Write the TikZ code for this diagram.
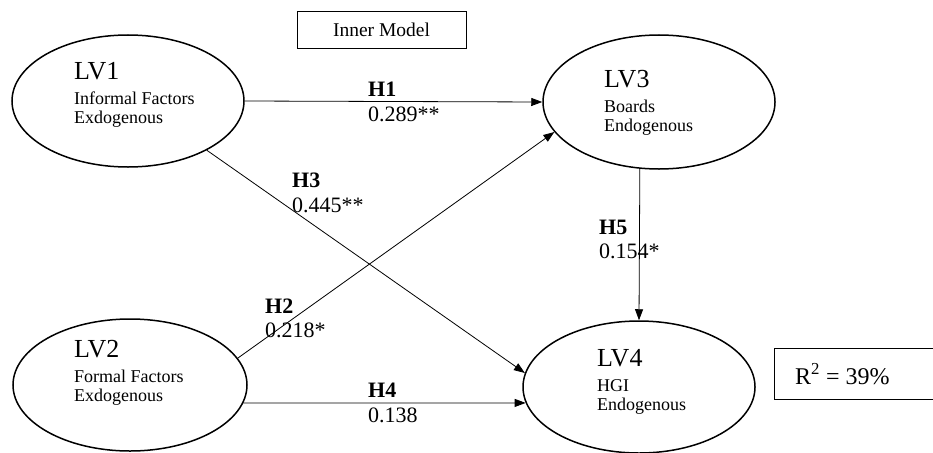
\documentclass[tikz,border=0pt]{standalone}
\usepackage{fontspec}
\setmainfont{Liberation Serif}
\usetikzlibrary{shapes.geometric,arrows.meta}

\tikzset{
  lv/.style={draw, ellipse, line width=1.5pt, minimum width=232pt, minimum height=132pt, inner sep=0pt},
  lvname/.style={anchor=base west, inner sep=0pt, font=\fontsize{26}{26}\selectfont},
  lvtext/.style={anchor=base west, inner sep=0pt, font=\fontsize{18}{18}\selectfont},
  hyp/.style={anchor=base west, inner sep=0pt, font=\fontsize{22}{22}\selectfont\bfseries},
  coef/.style={anchor=base west, inner sep=0pt, font=\fontsize{22}{22}\selectfont},
  path/.style={line width=0.8pt, -{Triangle[length=11pt,width=8pt]}},
  framebox/.style={draw, line width=0.8pt, inner sep=0pt}
}

\begin{document}
\begin{tikzpicture}[x=1pt,y=-1pt]
\useasboundingbox (0,0) rectangle (933,452);

% title box
\node[framebox, minimum width=169pt, minimum height=37pt, font=\fontsize{19.5}{19.5}\selectfont] (title) at (381.5,29.5) {Inner Model};

% latent variables
\node[lv] (lv1) at (128,101) {};
\node[lv, minimum width=232pt, minimum height=134pt] (lv3) at (659,102) {};
\node[lv, minimum width=234pt, minimum height=132pt] (lv2) at (130,385) {};
\node[lv] (lv4) at (639,387) {};

\node[lvname] (n1) at (74,79) {LV1};
\node[lvtext] (t1a) at (74,104) {Informal Factors};
\node[lvtext] (t1b) at (74,123) {Exdogenous};

\node[lvname] (n3) at (604,87) {LV3};
\node[lvtext] (t3a) at (604,112) {Boards};
\node[lvtext] (t3b) at (604,131) {Endogenous};

\node[lvname] (n2) at (74,357) {LV2};
\node[lvtext] (t2a) at (74,382) {Formal Factors};
\node[lvtext] (t2b) at (74,401) {Exdogenous};

\node[lvname] (n4) at (597,366) {LV4};
\node[lvtext] (t4a) at (597,391) {HGI};
\node[lvtext] (t4b) at (597,410) {Endogenous};

% structural paths
\draw[path] (lv1.0) -- (lv3.180);
\draw[path] (lv1.-32) -- (lv4.173);
\draw[path] (lv2.14) -- (lv3.-164);
\draw[path] (lv2.-9) -- (lv4.188);
\draw[path] (lv3.-106) -- (lv4.90);

% path labels
\node[hyp] (h1) at (368,96) {H1};
\node[coef] (c1) at (368,121) {0.289**};
\node[hyp] (h3) at (292,187) {H3};
\node[coef] (c3) at (292,212) {0.445**};
\node[hyp] (h2) at (265,313) {H2};
\node[coef] (c2) at (265,337) {0.218*};
\node[hyp] (h4) at (368,397) {H4};
\node[coef] (c4) at (368,422) {0.138};
\node[hyp] (h5) at (599,234) {H5};
\node[coef] (c5) at (599,258) {0.154*};

% explained variance
\draw[line width=0.8pt] (933,348) -- (774,348) -- (774,399) -- (933,399);
\node[anchor=base west, inner sep=0pt, font=\fontsize{24}{24}\selectfont] (r2) at (795,384) {R\textsuperscript{2} = 39\%};
\end{tikzpicture}
\end{document}
